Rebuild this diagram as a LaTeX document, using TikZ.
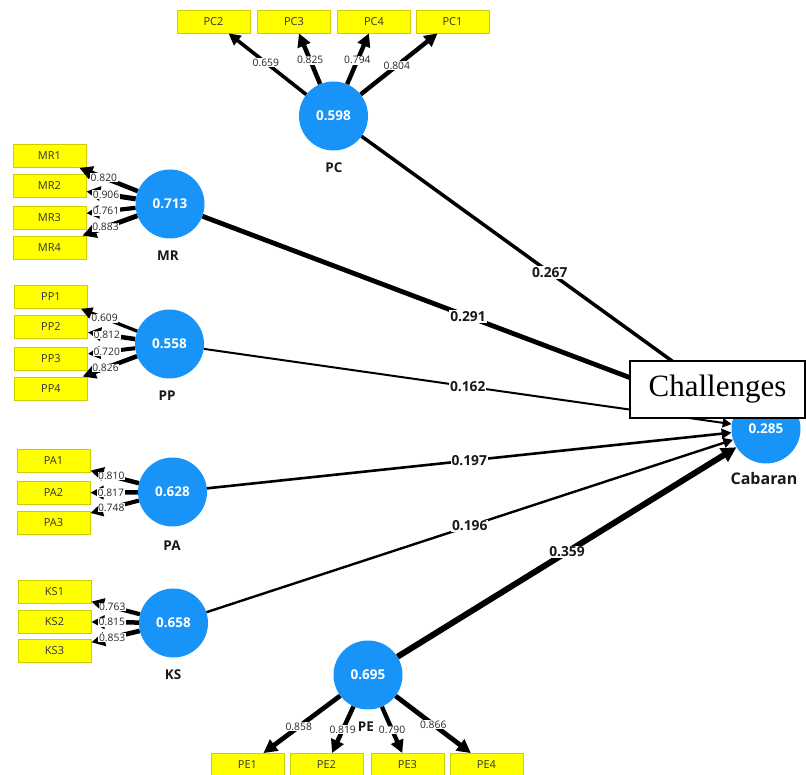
\documentclass[tikz,border=0pt]{standalone}
\usepackage{fontspec}
\setmainfont{Open Sans}
\newfontfamily\chalfont{Liberation Serif}
\usepackage{tikz}
\usetikzlibrary{arrows.meta}
\definecolor{lvblue}{RGB}{24,148,248}
\definecolor{mvyellow}{RGB}{255,255,0}
\definecolor{mvedge}{RGB}{205,205,0}
\tikzstyle{latent} = [circle, fill=lvblue, minimum size=69pt, inner sep=0pt, text=white, font=\fontsize{13.5}{13.5}\selectfont\bfseries]
\tikzstyle{lvname} = [inner sep=0pt, font=\fontsize{13.5}{13.5}\selectfont\bfseries, text=black!90]
\tikzstyle{indicator} = [rectangle, fill=mvyellow, draw=mvedge, line width=0.8pt, minimum width=73pt, minimum height=23pt, inner sep=0pt, font=\fontsize{11}{11}\selectfont, text=black!80]
\tikzstyle{loading} = [-{Triangle[length=6pt 1.6,width=6pt 1.6]}]
\tikzstyle{ldlab} = [fill=white, inner sep=0.6pt, font=\fontsize{10.3}{10.3}\selectfont, text=black!85]
\tikzstyle{struct} = [-{Triangle[length=6pt 1.5,width=6pt 1.5]}]
\tikzstyle{coef} = [fill=white, inner sep=1pt, font=\fontsize{13.8}{13.8}\selectfont\bfseries, text=black!90]
\tikzstyle{chbox} = [rectangle, draw=black, fill=white, line width=1.2pt, minimum width=175pt, minimum height=57pt, inner sep=0pt, font=\chalfont\fontsize{31}{31}\selectfont]

\begin{document}
\begin{tikzpicture}[x=1pt,y=1pt]
                \useasboundingbox (0,0) rectangle (806,775);
                \node[latent] (PC) at (333.5,659) {0.598};
                \node[latent] (MR) at (170,571) {0.713};
                \node[latent] (PP) at (169.5,431) {0.558};
                \node[latent] (PA) at (172.5,283) {0.628};
                \node[latent] (KS) at (173.5,152) {0.658};
                \node[latent] (PE) at (368,100) {0.695};
                \node[latent] (Cab) at (766,346) {0.285};
                \node[lvname] (PCname) at (334,607) {PC};
                \node[lvname] (MRname) at (168,519.5) {MR};
                \node[lvname] (PPname) at (167,379) {PP};
                \node[lvname] (PAname) at (172,229) {PA};
                \node[lvname] (KSname) at (173,100) {KS};
                \node[lvname, font=\fontsize{16}{16}\selectfont\bfseries] (Cabname) at (764,296) {Cabaran};
                \node[indicator] (PC2) at (213.5,753.5) {PC2};
                \node[indicator] (PC3) at (294,753.5) {PC3};
                \node[indicator] (PC4) at (374,753.5) {PC4};
                \node[indicator] (PC1) at (452.5,753.5) {PC1};
                \node[indicator] (MR1) at (49.5,619) {MR1};
                \node[indicator] (MR2) at (49.5,589) {MR2};
                \node[indicator] (MR3) at (49.5,557.5) {MR3};
                \node[indicator] (MR4) at (49.5,527.5) {MR4};
                \node[indicator] (PP1) at (51,478) {PP1};
                \node[indicator] (PP2) at (51,448) {PP2};
                \node[indicator] (PP3) at (51,416.5) {PP3};
                \node[indicator] (PP4) at (51,386.5) {PP4};
                \node[indicator] (PA1) at (53.5,314) {PA1};
                \node[indicator] (PA2) at (53.5,282) {PA2};
                \node[indicator] (PA3) at (53.5,252.5) {PA3};
                \node[indicator] (KS1) at (54.5,183) {KS1};
                \node[indicator] (KS2) at (54.5,153.5) {KS2};
                \node[indicator] (KS3) at (54.5,124) {KS3};
                \node[indicator] (PE1) at (247.5,10) {PE1};
                \node[indicator] (PE2) at (326.5,10) {PE2};
                \node[indicator] (PE3) at (407.5,10) {PE3};
                \node[indicator] (PE4) at (486.5,10) {PE4};
                \draw[loading, line width=3.6pt] (PC) -- node[ldlab, pos=0.52] {0.659} (PC2);
                \draw[loading, line width=4.5pt] (PC) -- node[ldlab, pos=0.47] {0.825} (PC3);
                \draw[loading, line width=4.4pt] (PC) -- node[ldlab, pos=0.47] {0.794} (PC4);
                \draw[loading, line width=4.4pt] (PC) -- node[ldlab, pos=0.47] {0.804} (PC1);
                \draw[loading, line width=4.5pt] (MR) -- node[ldlab, pos=0.58] {0.820} (MR1);
                \draw[loading, line width=5pt] (MR) -- node[ldlab, pos=0.6] {0.906} (MR2);
                \draw[loading, line width=4.2pt] (MR) -- node[ldlab, pos=0.6] {0.761} (MR3);
                \draw[loading, line width=4.9pt] (MR) -- node[ldlab, pos=0.58] {0.883} (MR4);
                \draw[loading, line width=3.3pt] (PP) -- node[ldlab, pos=0.58] {0.609} (PP1);
                \draw[loading, line width=4.5pt] (PP) -- node[ldlab, pos=0.6] {0.812} (PP2);
                \draw[loading, line width=4pt] (PP) -- node[ldlab, pos=0.6] {0.720} (PP3);
                \draw[loading, line width=4.5pt] (PP) -- node[ldlab, pos=0.58] {0.826} (PP4);
                \draw[loading, line width=4.5pt] (PA) -- node[ldlab, pos=0.57] {0.810} (PA1);
                \draw[loading, line width=4.5pt] (PA) -- node[ldlab, pos=0.57] {0.817} (PA2);
                \draw[loading, line width=4.1pt] (PA) -- node[ldlab, pos=0.57] {0.748} (PA3);
                \draw[loading, line width=4.2pt] (KS) -- node[ldlab, pos=0.57] {0.763} (KS1);
                \draw[loading, line width=4.5pt] (KS) -- node[ldlab, pos=0.57] {0.815} (KS2);
                \draw[loading, line width=4.7pt] (KS) -- node[ldlab, pos=0.57] {0.853} (KS3);
                \draw[loading, line width=4.7pt] (PE) -- node[ldlab, pos=0.54] {0.858} (PE1);
                \draw[loading, line width=4.5pt] (PE) -- node[ldlab, pos=0.5] {0.819} (PE2);
                \draw[loading, line width=4.3pt] (PE) -- node[ldlab, pos=0.5] {0.790} (PE3);
                \draw[loading, line width=4.8pt] (PE) -- node[ldlab, pos=0.5] {0.866} (PE4);
                \node[lvname] (PEname) at (366,48) {PE};
                \draw[struct, line width=3.5pt] (PC) -- node[coef] {0.267} (Cab);
                \draw[struct, line width=4.8pt] (MR) -- node[coef] {0.291} (Cab);
                \draw[struct, line width=2pt] (PP) -- node[coef] {0.162} (Cab);
                \draw[struct, line width=2.6pt] (PA) -- node[coef] {0.197} (Cab);
                \draw[struct, line width=2.4pt] (KS) -- node[coef] {0.196} (Cab);
                \draw[struct, line width=6pt] (PE) -- node[coef] {0.359} (Cab);
                \node[chbox] (chal) at (717.5,385.5) {Challenges};
\end{tikzpicture}
\end{document}
